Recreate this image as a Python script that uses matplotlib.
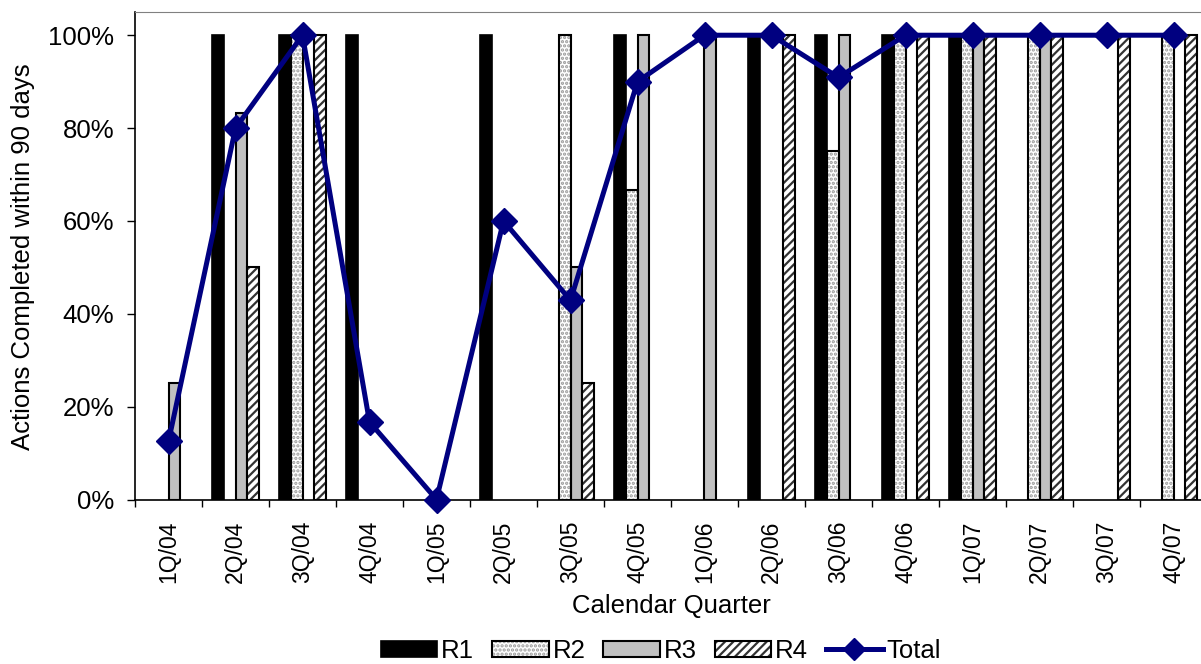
import matplotlib.pyplot as plt
from matplotlib.ticker import FixedLocator, PercentFormatter, NullFormatter
from matplotlib.legend_handler import HandlerTuple
from matplotlib.patches import Patch
from matplotlib.lines import Line2D

plt.rcParams['font.family'] = ['Liberation Sans', 'DejaVu Sans']
plt.rcParams['hatch.linewidth'] = 1.6

quarters = ['1Q/04', '2Q/04', '3Q/04', '4Q/04', '1Q/05', '2Q/05', '3Q/05', '4Q/05',
            '1Q/06', '2Q/06', '3Q/06', '4Q/06', '1Q/07', '2Q/07', '3Q/07', '4Q/07']
r1 = [0, 100, 100, 100, 0, 100, 0, 100, 0, 100, 100, 100, 100, 0, 0, 0]
r2 = [0, 0, 100, 0, 0, 0, 100, 66.7, 0, 0, 75, 100, 100, 100, 0, 100]
r3 = [25, 83.3, 0, 0, 0, 0, 50, 100, 100, 0, 100, 0, 100, 100, 0, 0]
r4 = [0, 50, 100, 0, 0, 0, 25, 0, 0, 100, 0, 100, 100, 100, 100, 100]
total = [12.5, 80, 100, 16.7, 0, 60, 42.9, 90, 100, 100, 90.9, 100, 100, 100, 100, 100]

fig = plt.figure(figsize=(12.01, 6.64), dpi=100)
# axes runs a little past the right edge of the figure, like the reference
ax = fig.add_axes([135 / 1201, 164.5 / 664, 1072 / 1201, 487.5 / 664])

x = list(range(len(quarters)))
w = 0.173
dot_col = '#9a9a9a'

def series(vals, k):
    # skip empty bars so no outline shows on the axis
    xs = [i + (k - 1.5) * w for i, v in zip(x, vals) if v > 0]
    hs = [v / 100 for v in vals if v > 0]
    return xs, hs

xs, hs = series(r1, 0)
ax.bar(xs, hs, w, color='black', edgecolor='black', linewidth=1.2, zorder=2)
xs, hs = series(r2, 1)
ax.bar(xs, hs, w, color='white', edgecolor=dot_col, hatch='....', linewidth=0, zorder=2)
ax.bar(xs, hs, w, fill=False, edgecolor='black', linewidth=1.5, zorder=3)
xs, hs = series(r3, 2)
ax.bar(xs, hs, w, color='#c0c0c0', edgecolor='black', linewidth=1.5, zorder=2)
xs, hs = series(r4, 3)
ax.bar(xs, hs, w, color='white', edgecolor='#333333', hatch='////', linewidth=0, zorder=2)
ax.bar(xs, hs, w, fill=False, edgecolor='black', linewidth=1.5, zorder=3)

ax.plot(x, [v / 100 for v in total], color='#000080', linewidth=3.6, marker='D', markersize=13,
        zorder=5, clip_on=False)

ax.set_xlim(-0.5, len(quarters) - 0.5)
ax.set_ylim(0, 1.05)
ax.yaxis.set_major_locator(FixedLocator([0, 0.2, 0.4, 0.6, 0.8, 1.0]))
ax.yaxis.set_major_formatter(PercentFormatter(1.0, decimals=0))
ax.tick_params(axis='y', length=6, width=1, labelsize=18.5, pad=9)

ax.xaxis.set_major_locator(FixedLocator([i - 0.5 for i in range(len(quarters) + 1)]))
ax.xaxis.set_major_formatter(NullFormatter())
ax.xaxis.set_minor_locator(FixedLocator(x))
ax.set_xticklabels(quarters, minor=True, rotation=90, fontsize=16.5)
ax.tick_params(axis='x', which='major', length=5, width=1)
ax.tick_params(axis='x', which='minor', length=0, pad=15)

ax.spines['top'].set_color('#808080')
ax.spines['right'].set_color('#808080')
ax.spines['left'].set_linewidth(1.2)
ax.spines['bottom'].set_linewidth(1.2)

ax.set_xlabel('Calendar Quarter', fontsize=18.5, labelpad=8)
fig.text(23 / 1201, 1 - 257 / 664, 'Actions Completed within 90 days', rotation=90,
         ha='center', va='center', fontsize=18.5)

h1 = Patch(facecolor='black', edgecolor='black', linewidth=1.2)
h2 = (Patch(facecolor='white', edgecolor=dot_col, hatch='....', linewidth=0),
      Patch(fill=False, edgecolor='black', linewidth=1.5))
h3 = Patch(facecolor='#c0c0c0', edgecolor='black', linewidth=1.5)
h4 = (Patch(facecolor='white', edgecolor='#333333', hatch='////', linewidth=0),
      Patch(fill=False, edgecolor='black', linewidth=1.5))
h5 = Line2D([], [], color='#000080', linewidth=3.6, marker='D', markersize=11)
fig.legend([h1, h2, h3, h4, h5], ['R1', 'R2', 'R3', 'R4', 'Total'],
           handler_map={tuple: HandlerTuple(ndivide=1, pad=0)},
           loc='center', bbox_to_anchor=(661 / 1201, 1 - 651 / 664), ncol=5, frameon=False,
           fontsize=18.5, handlelength=2.2, handleheight=0.6, handletextpad=0.15,
           columnspacing=0.7)

fig.savefig('out.png', dpi=100)
